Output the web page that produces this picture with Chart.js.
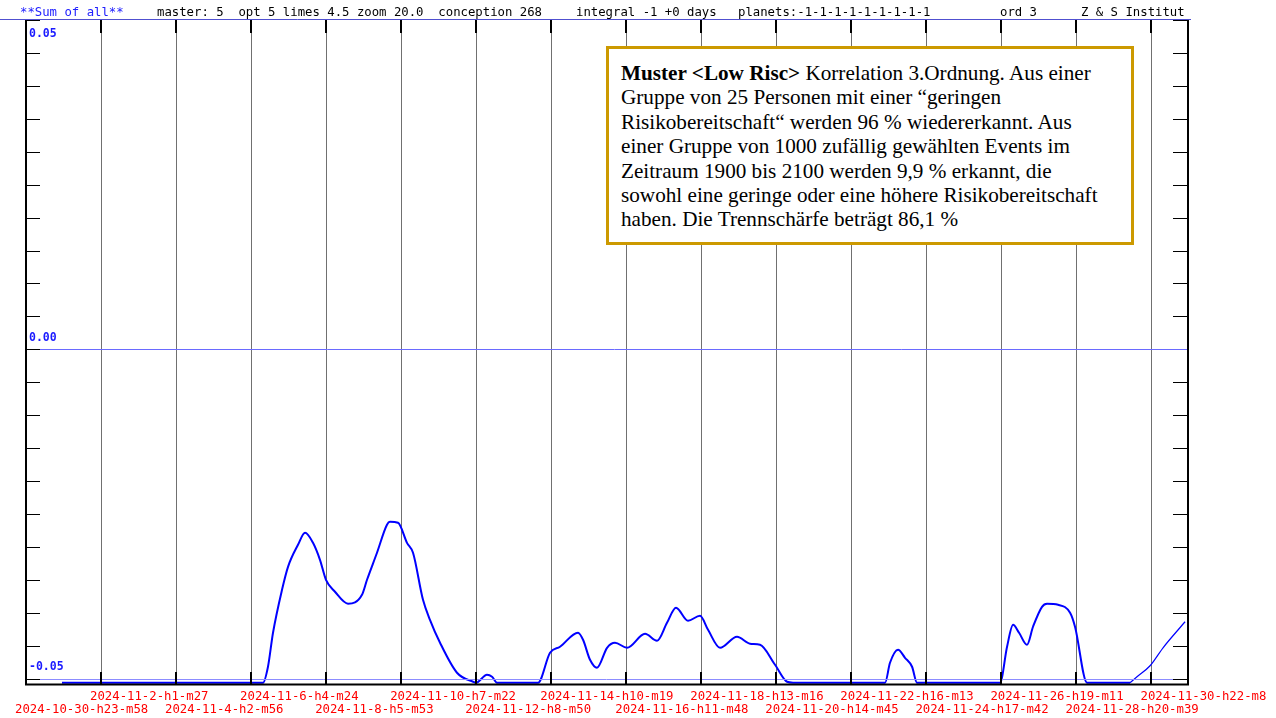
<!DOCTYPE html>
<html>
<head>
<meta charset="utf-8">
<script src="https://cdn.jsdelivr.net/npm/chart.js@4.4.1/dist/chart.umd.min.js"></script>
<style>
  html, body { margin: 0; padding: 0; background: #fff; }
  #wrap { position: relative; width: 1276px; height: 718px; overflow: hidden; }
  #c { position: absolute; left: 0; top: 0; }
  #note {
    position: absolute; left: 606px; top: 46px; width: 528px; height: 199px;
    box-sizing: border-box; border: 3px solid #cc9900; background: #fff;
    font-family: "Liberation Serif", "Times New Roman", serif; font-size: 21.2px;
    line-height: 24.4px; padding: 12px 0 0 12px; white-space: nowrap; color: #000;
  }
</style>
</head>
<body>
<div id="wrap">
  <canvas id="c" width="1276" height="718"></canvas>
  <div id="note"><b>Muster &lt;Low Risc&gt;</b> Korrelation 3.Ordnung. Aus einer<br>Gruppe von 25 Personen mit einer “geringen<br>Risikobereitschaft“ werden 96 % wiedererkannt. Aus<br>einer Gruppe von 1000 zufällig gewählten Events im<br>Zeitraum 1900 bis 2100 werden 9,9 % erkannt, die<br>sowohl eine geringe oder eine höhere Risikobereitschaft<br>haben. Die Trennschärfe beträgt 86,1 %</div>
</div>
<script>
// ---- data ----
const xLabels = ["2024-10-30-h23-m58","2024-11-2-h1-m27","2024-11-4-h2-m56","2024-11-6-h4-m24",
  "2024-11-8-h5-m53","2024-11-10-h7-m22","2024-11-12-h8-m50","2024-11-14-h10-m19",
  "2024-11-16-h11-m48","2024-11-18-h13-m16","2024-11-20-h14-m45","2024-11-22-h16-m13",
  "2024-11-24-h17-m42","2024-11-26-h19-m11","2024-11-28-h20-m39","2024-11-30-h22-m8"];
const yLabelValues = [0.05, 0.00, -0.05];
const headerLeft = "**Sum of all**";
const headerParts = ["master: 5  opt 5 limes 4.5 zoom 20.0  conception 268", "integral -1 +0 days",
  "planets:-1-1-1-1-1-1-1-1-1", "ord 3", "Z & S Institut"];

// x in label-interval units (0 = first label), y = sum value
const tMain = [0.480,3.159,3.225,3.292,3.412,3.492,3.625,3.719,3.825,3.918,3.998,4.118,4.292,4.478,4.545,
  4.678,4.811,4.851,4.958,5.078,5.158,5.291,5.384,5.518,5.744,5.958,5.998,6.144,6.211,6.277,6.824,6.984,
  7.117,7.357,7.424,7.517,7.610,7.744,7.850,8.010,8.250,8.410,8.543,8.663,8.823,8.983,9.090,9.250,9.476,
  9.650,9.783,9.983,10.143,10.223,11.449,11.515,11.622,11.715,11.809,11.875,12.982,13.075,13.155,13.235,
  13.341,13.421,13.541,13.608,13.755,13.915,13.981,14.141,14.714];
const vMain = [-0.0506,-0.0506,-0.04818,-0.04302,-0.03650,-0.03301,-0.02967,-0.02785,-0.02937,-0.03195,
  -0.03498,-0.03680,-0.03862,-0.03726,-0.03498,-0.03088,-0.02663,-0.02618,-0.02633,-0.02937,-0.03088,
  -0.03802,-0.04105,-0.04454,-0.04909,-0.05046,-0.0506,-0.04940,-0.04970,-0.0506,-0.0506,-0.04606,
  -0.04515,-0.04302,-0.04409,-0.04712,-0.04833,-0.04530,-0.04454,-0.04530,-0.04318,-0.04424,-0.04151,
  -0.03923,-0.04120,-0.04044,-0.04257,-0.04530,-0.04363,-0.04469,-0.04484,-0.04788,-0.05046,-0.0506,
  -0.0506,-0.04758,-0.04560,-0.04682,-0.04818,-0.0506,-0.0506,-0.04515,-0.04181,-0.04302,-0.04484,
  -0.04211,-0.03908,-0.03862,-0.03877,-0.03999,-0.04211,-0.0506,-0.0506];
const tTail = [14.714,14.807,14.981,15.154,15.448];
const vTail = [-0.0506,-0.04970,-0.04803,-0.04530,-0.04135];

const zip = (xs, ys) => xs.map((x, i) => ({ x: x, y: ys[i] }));
const yTicks = [];
for (let k = 0; k <= 20; k++) yTicks.push((k * 5 - 50) / 1000);
const near = (a, b) => Math.abs(a - b) < 1e-9;

const MONO = '"DejaVu Sans Mono", monospace';

const framePlugin = {
  id: 'frame',
  afterDraw(chart) {
    const ctx = chart.ctx;
    const a = chart.chartArea;
    const xs = chart.scales.x, ys = chart.scales.y;
    ctx.save();
    // header underline
    ctx.strokeStyle = '#5050d0'; ctx.lineWidth = 1;
    ctx.beginPath(); ctx.moveTo(0, a.top - 0.5); ctx.lineTo(a.right + 2, a.top - 0.5); ctx.stroke();
    // y inner ticks (left and right)
    ctx.strokeStyle = '#000'; ctx.lineWidth = 1;
    yTicks.forEach(v => {
      const y = Math.round(ys.getPixelForValue(v)) + 0.5;
      ctx.beginPath(); ctx.moveTo(a.left, y); ctx.lineTo(a.left + 14, y); ctx.stroke();
      ctx.beginPath(); ctx.moveTo(a.right - 16, y); ctx.lineTo(a.right, y); ctx.stroke();
    });
    // blue reference lines at 0.00 and -0.05
    const y0 = Math.round(ys.getPixelForValue(0)) + 0.5;
    ctx.strokeStyle = '#6a6aff';
    ctx.beginPath(); ctx.moveTo(a.left + 14, y0); ctx.lineTo(a.right, y0); ctx.stroke();
    const y1 = Math.round(ys.getPixelForValue(-0.05)) + 0.5;
    ctx.strokeStyle = '#8c8cff';
    ctx.beginPath(); ctx.moveTo(a.left + 14, y1); ctx.lineTo(a.right - 16, y1); ctx.stroke();
    // gridline ticks top & bottom
    ctx.strokeStyle = '#000';
    ctx.lineWidth = 2;
    xLabels.forEach((_, i) => {
      if (i === 0) return;
      const x = Math.round(xs.getPixelForValue(i));
      ctx.beginPath(); ctx.moveTo(x, a.top); ctx.lineTo(x, a.top + 13); ctx.stroke();
      ctx.beginPath(); ctx.moveTo(x, a.bottom - 12); ctx.lineTo(x, a.bottom); ctx.stroke();
    });
    // frame: left, right, bottom
    ctx.beginPath(); ctx.moveTo(a.left, a.top); ctx.lineTo(a.left, a.bottom + 1); ctx.stroke();
    ctx.beginPath(); ctx.moveTo(a.right - 1, a.top); ctx.lineTo(a.right - 1, a.bottom + 1); ctx.stroke();
    ctx.beginPath(); ctx.moveTo(a.left - 1, a.bottom + 0.5); ctx.lineTo(a.right, a.bottom + 0.5); ctx.stroke();
    // header text
    ctx.font = '12.3px ' + MONO;
    ctx.textBaseline = 'alphabetic'; ctx.textAlign = 'left';
    ctx.fillStyle = '#2020ff';
    ctx.fillText(headerLeft, 20, 16);
    ctx.fillStyle = '#000';
    const hx = [157, 576, 738, 1000, 1081];
    headerParts.forEach((t, i) => ctx.fillText(t, hx[i], 16));
    ctx.restore();
  }
};

new Chart(document.getElementById('c'), {
  type: 'line',
  data: {
    datasets: [
      { data: zip(tMain, vMain), borderColor: '#0000ff', borderWidth: 2, pointRadius: 0,
        cubicInterpolationMode: 'monotone', fill: false },
      { data: zip(tTail, vTail), borderColor: '#0000ff', borderWidth: 1.2, pointRadius: 0,
        cubicInterpolationMode: 'monotone', fill: false }
    ]
  },
  options: {
    responsive: false, animation: false, devicePixelRatio: 1,
    layout: { padding: { left: 0, right: 87, top: 20, bottom: 0 } },
    plugins: { legend: { display: false }, tooltip: { enabled: false }, title: { display: false } },
    scales: {
      x: {
        type: 'linear', min: 0, max: 15.5, position: 'bottom',
        afterBuildTicks: s => { s.ticks = xLabels.map((_, i) => ({ value: i })); },
        afterFit: s => { s.height = 34; s.paddingLeft = 0; s.paddingRight = 0; },
        ticks: {
          autoSkip: false, maxRotation: 0, minRotation: 0, align: 'start', labelOffset: -11,
          padding: 6, color: '#ff0000',
          font: { family: MONO, size: 12.3, lineHeight: '13px' },
          callback: (v, i) => (i % 2 ? [xLabels[i], ''] : ['', xLabels[i]])
        },
        grid: { color: '#707070', lineWidth: 1, drawTicks: false },
        border: { display: false }
      },
      y: {
        type: 'linear', min: -0.0508, max: 0.05, position: 'left',
        afterBuildTicks: s => { s.ticks = yTicks.map(v => ({ value: v })); },
        afterFit: s => { s.width = 26; s.paddingTop = 0; s.paddingBottom = 0; },
        ticks: {
          mirror: true, padding: 3, color: '#1a1aff',
          font: c => ({ family: MONO, size: 11.5, weight: 'bold',
            lineHeight: (c.tick && near(c.tick.value, 0.05)) ? 1.2 : 1.0 }),
          callback: (v) => {
            const i = yLabelValues.findIndex(t => near(t, v));
            if (i < 0) return '';
            const txt = yLabelValues[i] === 0 ? '0.00' : yLabelValues[i].toFixed(2);
            return near(v, 0.05) ? ['', '', txt] : [txt, '', ''];
          }
        },
        grid: { display: false, drawTicks: false },
        border: { display: false }
      }
    }
  },
  plugins: [framePlugin]
});
</script>
</body>
</html>
